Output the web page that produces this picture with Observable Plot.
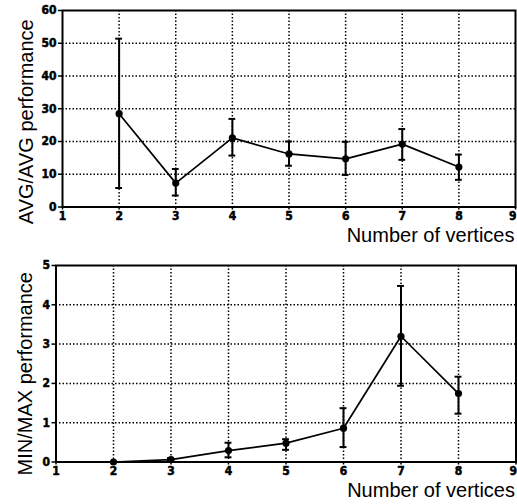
<!DOCTYPE html>
<html>
<head>
<meta charset="utf-8">
<script src="https://cdn.jsdelivr.net/npm/d3@7"></script>
<script src="https://cdn.jsdelivr.net/npm/@observablehq/plot@0.6"></script>
<style>
  html, body { margin: 0; padding: 0; background: #fff; }
  #chart svg { display: block; }
</style>
</head>
<body>
<div id="chart"></div>
<script>
const vertices = [2, 3, 4, 5, 6, 7, 8];
const avgMean = [28.5, 7.3, 21.1, 16.2, 14.7, 19.2, 12.2];
const avgLow  = [5.8, 3.5, 15.7, 12.6, 9.8, 14.4, 8.3];
const avgHigh = [51.4, 11.6, 26.9, 20.0, 19.9, 23.8, 16.0];
const mmMean = [0.0, 0.06, 0.29, 0.48, 0.86, 3.2, 1.74];
const mmLow  = [0.0, 0.03, 0.12, 0.31, 0.38, 1.94, 1.23];
const mmHigh = [0.0, 0.10, 0.49, 0.58, 1.37, 4.48, 2.17];
const xTicks = [1, 2, 3, 4, 5, 6, 7, 8, 9];
const avgTicks = [0, 10, 20, 30, 40, 50, 60];
const mmTicks = [0, 1, 2, 3, 4, 5];
const xLabel = "Number of vertices";
const avgLabel = "AVG/AVG performance";
const mmLabel = "MIN/MAX performance";

const capHalf = 0.06;

function panel({mean, low, high, yTicks, yLabel, height, mt, mb, ml, mr, labelDx, labelDy}) {
  const data = vertices.map((x, i) => ({x, y: mean[i], lo: low[i], hi: high[i]}));
  const tickFont = {fontFamily: "DejaVu Sans Condensed, DejaVu Sans, sans-serif", fontWeight: "bold", fontSize: 12,
    fill: "#000", stroke: "#000", strokeWidth: 0.5};
  return Plot.plot({
    width: 517,
    height,
    marginTop: mt,
    marginBottom: mb,
    marginLeft: ml,
    marginRight: mr,
    style: {background: "#fff", color: "#000", overflow: "visible"},
    x: {domain: [xTicks[0], xTicks[xTicks.length - 1]]},
    y: {domain: [yTicks[0], yTicks[yTicks.length - 1]]},
    marks: [
      Plot.gridX(xTicks.slice(1, -1), {stroke: "#000", strokeOpacity: 1, strokeWidth: 1.5, strokeDasharray: "1.5,2"}),
      Plot.gridY(yTicks.slice(1, -1), {stroke: "#000", strokeOpacity: 1, strokeWidth: 1.5, strokeDasharray: "1.5,2"}),
      Plot.axisX(xTicks, {tickSize: 3, tickFormat: () => "", label: null, stroke: "#000", strokeWidth: 1.5}),
      Plot.axisY(yTicks, {tickSize: 4, tickFormat: () => "", label: null, stroke: "#000", strokeWidth: 1.5}),
      Plot.text(xTicks.slice(0, -1), {x: d => d, text: d => `${d}`, frameAnchor: "bottom", lineAnchor: "top", dy: 4, ...tickFont}),
      Plot.text(xTicks.slice(-1), {x: d => d, text: d => `${d}`, frameAnchor: "bottom", lineAnchor: "top", textAnchor: "end", dx: 1, dy: 4, ...tickFont}),
      Plot.text(yTicks, {y: d => d, text: d => `${d}`, frameAnchor: "left", textAnchor: "end", lineAnchor: "middle", dx: -6, ...tickFont}),
      Plot.frame({stroke: "#000", strokeWidth: 2}),
      Plot.ruleX(data, {x: "x", y1: "lo", y2: "hi", stroke: "#000", strokeWidth: 2}),
      Plot.ruleY(data, {y: "lo", x1: d => d.x - capHalf, x2: d => d.x + capHalf, stroke: "#000", strokeWidth: 2}),
      Plot.ruleY(data, {y: "hi", x1: d => d.x - capHalf, x2: d => d.x + capHalf, stroke: "#000", strokeWidth: 2}),
      Plot.line(data, {x: "x", y: "y", stroke: "#000", strokeWidth: 1.7}),
      Plot.dot(data, {x: "x", y: "y", r: 3.6, fill: "#000", stroke: "none"}),
      Plot.text([xLabel], {frameAnchor: "bottom-right", textAnchor: "end", lineAnchor: "top", dy: 21, dx: -1,
        fontFamily: "Liberation Sans, Arial, sans-serif", fontSize: 20, fill: "#000", style: "letter-spacing:1px"}),
      Plot.text([yLabel], {frameAnchor: "left", rotate: -90, textAnchor: "middle", lineAnchor: "middle",
        dx: labelDx, dy: labelDy, fontFamily: "Liberation Sans, Arial, sans-serif", fontSize: 20, fill: "#000"})
    ]
  });
}

const topPanel = panel({mean: avgMean, low: avgLow, high: avgHigh, yTicks: avgTicks, yLabel: avgLabel,
  height: 250, mt: 10, mb: 43.5, ml: 62, mr: 2, labelDx: -36, labelDy: 13});
const bottomPanel = panel({mean: mmMean, low: mmLow, high: mmHigh, yTicks: mmTicks, yLabel: mmLabel,
  height: 254, mt: 15, mb: 42.5, ml: 55.5, mr: 1.5, labelDx: -30, labelDy: 10});

document.getElementById("chart").append(topPanel, bottomPanel);
</script>
</body>
</html>
